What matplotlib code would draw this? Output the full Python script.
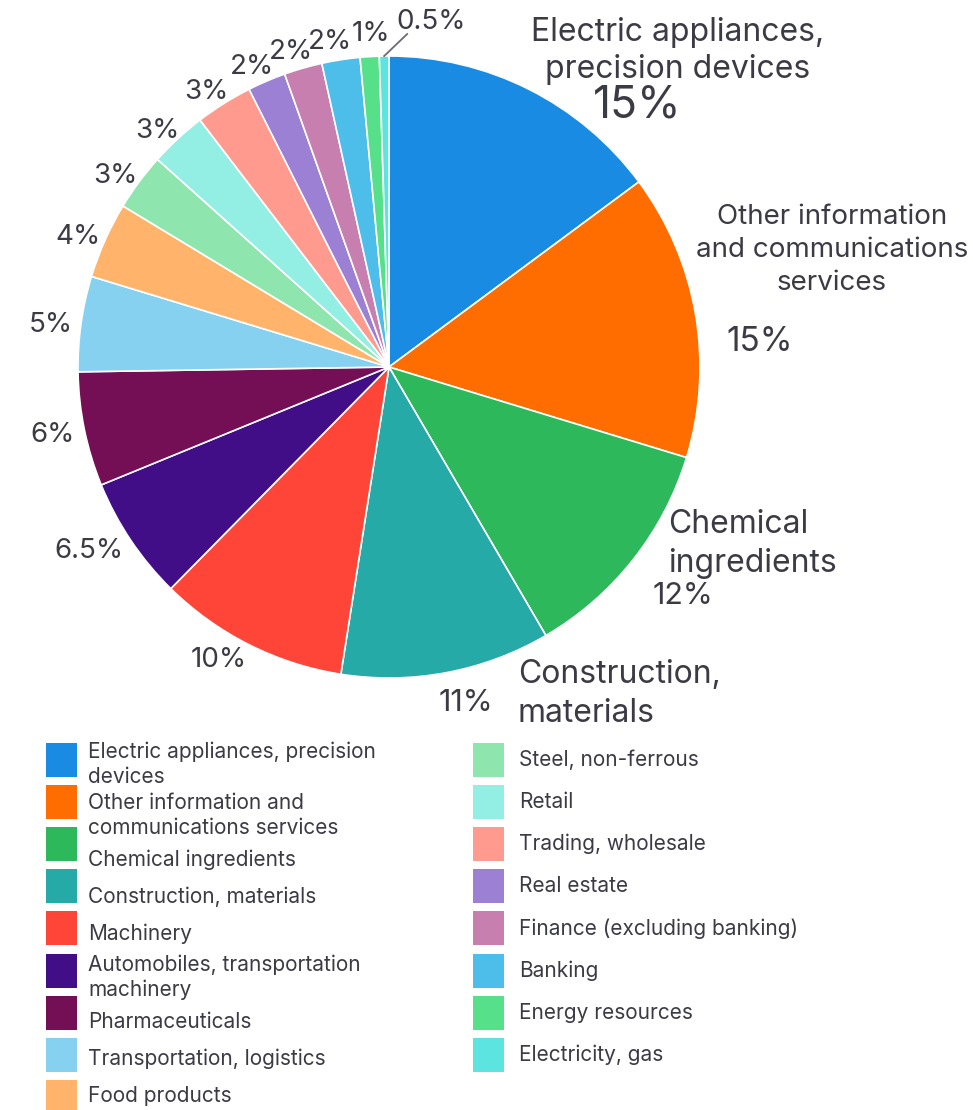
import textwrap
import numpy as np
import matplotlib.pyplot as plt
from matplotlib.patches import Rectangle

# Sector breakdown (percent of holdings)
sectors = [
    "Electric appliances, precision devices",
    "Other information and communications services",
    "Chemical ingredients",
    "Construction, materials",
    "Machinery",
    "Automobiles, transportation machinery",
    "Pharmaceuticals",
    "Transportation, logistics",
    "Food products",
    "Steel, non-ferrous",
    "Retail",
    "Trading, wholesale",
    "Real estate",
    "Finance (excluding banking)",
    "Banking",
    "Energy resources",
    "Electricity, gas",
]
shares = [15, 15, 12, 11, 10, 6.5, 6, 5, 4, 3, 3, 3, 2, 2, 2, 1, 0.5]
colors = [
    "#1a8be3", "#ff6d00", "#2eb85c", "#26aaa8", "#ff4438", "#410e87",
    "#740f55", "#87d1f0", "#ffb36b", "#8ee6ae", "#93efe3", "#ff9a8e",
    "#9b80d3", "#c77faf", "#4dbdea", "#56e08a", "#5ce4e0",
]

W, H = 973, 1110
ink = "#3b3b45"
plt.rcParams["font.family"] = ["Inter", "DejaVu Sans"]

fig = plt.figure(figsize=(W / 100, H / 100), dpi=100)
ax = fig.add_axes([0, 0, 1, 1])

# work in pixel units, y pointing up
cx, cy, R = 389, H - 367, 311
wedges, _ = ax.pie(shares, colors=colors, startangle=90, counterclock=False,
                   center=(cx, cy), radius=R, frame=True,
                   wedgeprops=dict(edgecolor="white", linewidth=1.2))
ax.set_xlim(0, W)
ax.set_ylim(0, H)
ax.axis("off")


def pct(v):
    return f"{v:g}%"


# big labels for the four largest sectors
ax.text(678, H - 51, "Electric appliances,\nprecision devices", ha="center",
        va="center", fontsize=23, color=ink, linespacing=1.23)
ax.text(637, H - 106, pct(shares[0]), ha="center", va="center", fontsize=32, color=ink)
ax.text(832, H - 250, "Other information\nand communications\nservices", ha="center",
        va="center", fontsize=20, color=ink, linespacing=1.33)
ax.text(760, H - 342, pct(shares[1]), ha="center", va="center", fontsize=24, color=ink)
ax.text(668, H - 544, "Chemical\ningredients", ha="left", va="center",
        fontsize=23, color=ink, linespacing=1.3)
ax.text(683, H - 596, pct(shares[2]), ha="center", va="center", fontsize=22, color=ink)
ax.text(518, H - 694, "Construction,\nmaterials", ha="left", va="center",
        fontsize=23, color=ink, linespacing=1.3)
ax.text(466, H - 703, pct(shares[3]), ha="center", va="center", fontsize=22, color=ink)

# percentage labels around the left side
nudges = {"Energy resources": (8, 4)}
for name, v, w in zip(sectors[4:16], shares[4:16], wedges[4:16]):
    a = np.deg2rad((w.theta1 + w.theta2) / 2)
    s = np.sin(a)
    x = cx + 325 * np.cos(a) + 4 + 10 * max(s, 0)
    y = cy + 325 * s + 8 * max(s, 0) ** 8 - 3
    dx, dy = nudges.get(name, (0, 0))
    ax.text(x + dx, y + dy, pct(v), ha="right", va="center", fontsize=20, color=ink)

# smallest slice gets a leader line
w = wedges[16]
a = np.deg2rad((w.theta1 + w.theta2) / 2)
x0, y0 = cx + R * np.cos(a), cy + R * np.sin(a)
ax.plot([x0, x0 + 23], [y0, y0 + 22], color="#6b6b75", lw=1.3)
ax.text(x0 + 12, y0 + 34, pct(shares[16]), ha="left", va="center", fontsize=20, color=ink)

# legend in two columns
for i, (name, c) in enumerate(zip(sectors, colors)):
    col, row = divmod(i, 9)
    sx = 46 if col == 0 else 473
    sy = 743 + row * 42.1
    ax.add_patch(Rectangle((sx, H - sy - 34), 31, 34, color=c, lw=0))

top = 738
for name in sectors[:9]:
    label = textwrap.fill(name, 30)
    h = 51 if "\n" in label else 37
    ax.text(88, H - (top + h / 2) - 1, label, ha="left", va="center",
            fontsize=15, color=ink, linespacing=1.3)
    top += h

for row, name in enumerate(sectors[9:]):
    sy = 743 + row * 42.1 + 17
    ax.text(519, H - sy, name, ha="left", va="center", fontsize=15, color=ink)

fig.savefig("out.png", dpi=100)
